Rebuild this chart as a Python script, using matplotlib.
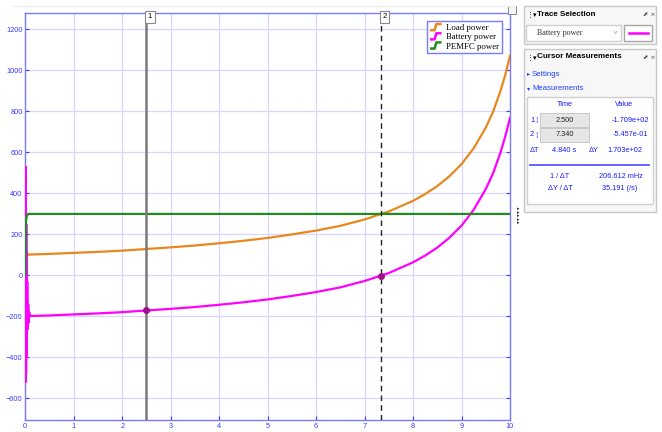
import matplotlib.pyplot as plt
from matplotlib import font_manager
from matplotlib.legend_handler import HandlerBase
from matplotlib.lines import Line2D
from matplotlib.patches import Rectangle

# ---- data (W vs s) ----
t_load = [0, 0.01, 0.02, 0.03, 0.05, 0.1, 0.5, 1, 1.5, 2, 2.5, 3, 3.5, 4, 4.5, 5,
          5.5, 6, 6.5, 7, 7.34, 7.5, 8, 8.25, 8.5, 8.75, 9, 9.25, 9.5, 9.65,
          9.8, 9.9, 10]
load_power = [0, 125, 85, 122, 100, 102, 105, 110, 115, 121, 129, 137, 146, 157,
              169, 183, 200, 219, 242, 273, 300, 312, 364, 397, 436, 484, 543,
              620, 721, 798, 897, 976, 1071]

t_batt = [0, 0.004, 0.008, 0.012, 0.016, 0.02, 0.025, 0.03, 0.035, 0.04, 0.05,
          0.06, 0.07, 0.08, 0.1, 0.5, 1, 1.5, 2, 2.5, 3, 3.5, 4, 4.5, 5, 5.5, 6,
          6.5, 7, 7.34, 7.5, 8, 8.25, 8.5, 8.75, 9, 9.25, 9.5, 9.65, 9.8, 9.9, 10]
battery_power = [0, 530, -520, 420, -480, 250, -400, 100, -270, -30, -260, -140,
                 -230, -180, -198, -195, -190, -185, -179, -170.87, -163, -154,
                 -143, -131, -117, -100, -81, -58, -27, -0.5457, 12, 64, 97, 136,
                 184, 243, 320, 421, 498, 597, 676, 768]

t_fc = [0, 0.01, 0.015, 0.03, 0.06, 10]
fc_power = [0, 200, 270, 290, 300, 300]

cursor_t = [2.5, 7.34]
cursor_val = [-170.87, -0.5457]

x_ticks = list(range(0, 11))
y_ticks = list(range(-600, 1201, 200))

W, H = 662, 432
BLUE = "#3a3aff"
GRID = "#d6d6ff"

fonts = {f.name for f in font_manager.fontManager.ttflist}
narrow = "Liberation Sans Narrow" if "Liberation Sans Narrow" in fonts else "Liberation Sans"
SANS = [narrow, "DejaVu Sans"]
SERIF = ["Liberation Serif", "DejaVu Serif"]
PS = 5.3  # panel text size


def fx(x):
    return x / W


def fy(y):
    return 1 - y / H


class StepHandler(HandlerBase):
    # little step glyph like the scope legend uses
    def create_artists(self, legend, orig_handle, xdescent, ydescent,
                       width, height, fontsize, trans):
        xs = [0.15 * width, 0.45 * width, 0.6 * width, 0.95 * width]
        ys = [0.0, 0.0, height, height]
        ln = Line2D([x - xdescent for x in xs], [y - ydescent for y in ys],
                    color=orig_handle.get_color(), lw=1.8)
        ln.set_transform(trans)
        return [ln]


fig = plt.figure(figsize=(W / 100, H / 100), dpi=100)
fig.patch.set_facecolor("white")

ax = fig.add_axes([fx(25.3), fy(420), fx(510) - fx(25.3), fy(13) - fy(420)])
ax.set_facecolor("white")

l1, = ax.plot(t_load, load_power, color="#e8871e", lw=1.6, label="Load power", zorder=3)
l2, = ax.plot(t_batt, battery_power, color="#ff00ff", lw=1.6, label="Battery power", zorder=4)
l3, = ax.plot(t_fc, fc_power, color="#1e8c1e", lw=1.6, label="PEMFC power", zorder=5)

# cursors
ax.axvline(cursor_t[0], color="#7a7a7a", lw=1.8, zorder=6)
ax.axvline(cursor_t[1], color="#222222", lw=1.0, ls=(0, (4, 3)), zorder=6)
ax.plot(cursor_t, cursor_val, "o", color="#a0108a", ms=4, zorder=7)
for i, ct in enumerate(cursor_t):
    ax.text(ct + 0.03, 1278, str(i + 1), ha="left", va="top", fontsize=5.5,
            family=SANS, zorder=8,
            bbox=dict(boxstyle="square,pad=0.35", fc="white", ec="#888888", lw=0.8))

ax.set_xlim(0, 10)
ax.set_ylim(-705, 1280)
ax.set_xticks(x_ticks)
ax.set_yticks(y_ticks)
ax.grid(True, color=GRID, lw=0.9, zorder=0)
ax.set_axisbelow(True)
ax.tick_params(direction="in", length=3, width=0.8, colors=BLUE,
               labelsize=5.3, pad=2, top=False, right=True)
for lab in ax.get_xticklabels() + ax.get_yticklabels():
    lab.set_family(SANS)
for sp in ax.spines.values():
    sp.set_color("#7a7aff")
    sp.set_linewidth(1.0)

leg = ax.legend(handles=[l1, l2, l3], loc="upper right", bbox_to_anchor=(0.992, 0.99),
                prop={"family": SERIF, "size": 6.3}, handler_map={Line2D: StepHandler()},
                handlelength=1.3, handletextpad=0.6, borderpad=0.3, labelspacing=0.12,
                fancybox=False, framealpha=1)
leg.get_frame().set_edgecolor("#7a7aff")
leg.get_frame().set_linewidth(1.0)
leg.set_zorder(10)

# faint toolbar line above the plot
fig.add_artist(Line2D([fx(12), fx(515)], [fy(6), fy(6)], color="#eeeeee", lw=1))
fig.add_artist(Rectangle((fx(508), fy(14)), fx(8), fy(6) - fy(14), fc="#f4f4f4",
                         ec="#777777", lw=0.6))
for k in range(5):
    fig.text(fx(518), fy(209 + k * 3.5), "▸", fontsize=3.5, ha="center", va="center",
             color="#222222", family=["DejaVu Sans"])


def panel(x0, y0, x1, y1, fc="white", ec="#c8c8c8", lw=1.0):
    fig.add_artist(Rectangle((fx(x0), fy(y1)), fx(x1) - fx(x0), fy(y0) - fy(y1),
                             fc=fc, ec=ec, lw=lw))


def txt(x, y, s, size=PS, color="black", ha="left", weight="normal", family=SANS):
    fig.text(fx(x), fy(y), s, fontsize=size, color=color, ha=ha, va="center",
             weight=weight, family=family)


# Trace selection panel
panel(524, 6, 656, 44, fc="#f7f7f7")
txt(527, 14, "⋮▾", size=5, family=["DejaVu Sans"])
txt(537, 14, "Trace Selection", size=5.8, weight="bold")
txt(643, 14, "⬈ ×", size=4.5, color="#444444", family=["DejaVu Sans"])
panel(526, 25, 621, 41, fc="white", ec="#d0d0d0")
txt(537, 33, "Battery power", size=5.8, color="#333333", family=SERIF)
txt(616, 33, "v", size=4.5, color="#888888", ha="center")
panel(624, 25, 652, 41, fc="white", ec="#a8a8a8")
fig.add_artist(Line2D([fx(629), fx(648)], [fy(33), fy(33)], color="#ff00ff", lw=1.8))

# Cursor measurements panel
panel(524, 49, 656, 212, fc="#f7f7f7")
txt(527, 57, "⋮▾", size=5, family=["DejaVu Sans"])
txt(537, 57, "Cursor Measurements", size=5.8, weight="bold")
txt(643, 57, "⬈ ×", size=4.5, color="#444444", family=["DejaVu Sans"])
txt(527, 74, "▸", size=4.5, color="#1f3fff", family=["DejaVu Sans"])
txt(532, 74, "Settings", size=PS + 0.3, color="#1f3fff")
txt(527, 89, "▾", size=4.5, color="#1f3fff", family=["DejaVu Sans"])
txt(532, 89, "Measurements", size=PS + 0.3, color="#1f3fff")
panel(527, 97, 653, 204, fc="white", ec="#d0d0d0")

MB = "#1a1aff"
txt(565, 105, "Time", color=MB, ha="center")
txt(624, 105, "Value", color=MB, ha="center")
for i, (ct, cv) in enumerate(zip(cursor_t, cursor_val)):
    yy = 120 + 15 * i
    txt(530, yy, f"{i + 1}", color=MB)
    txt(535, yy, "¦", size=5, color=MB, family=["DejaVu Sans"])
    panel(540, yy - 7, 589, yy + 7, fc="#e6e6e6", ec="#c0c0c0", lw=0.6)
    txt(564.5, yy, f"{ct:.3f}", color="#222222", ha="center")
    txt(630, yy, f"{cv:.3e}", color=MB, ha="center")

dt = cursor_t[1] - cursor_t[0]
dy = cursor_val[1] - cursor_val[0]
txt(534, 150, "ΔT", color=MB, ha="center")
txt(564, 150, f"{dt:.3f} s", color=MB, ha="center")
txt(594, 150, "ΔY", color=MB, ha="center")
txt(625, 150, f"{dy:.3e}", color=MB, ha="center")
fig.add_artist(Line2D([fx(530), fx(649)], [fy(165), fy(165)], color="#4a4aff", lw=1.2))
txt(560, 176, "1 / ΔT", color=MB, ha="center")
txt(621, 176, f"{1000 / dt:.3f} mHz", color=MB, ha="center")
txt(560, 189, "ΔY / ΔT", color=MB, ha="center")
txt(620, 189, f"{dy / dt:.3f} (/s)", color=MB, ha="center")

fig.savefig("out.png", dpi=100)
